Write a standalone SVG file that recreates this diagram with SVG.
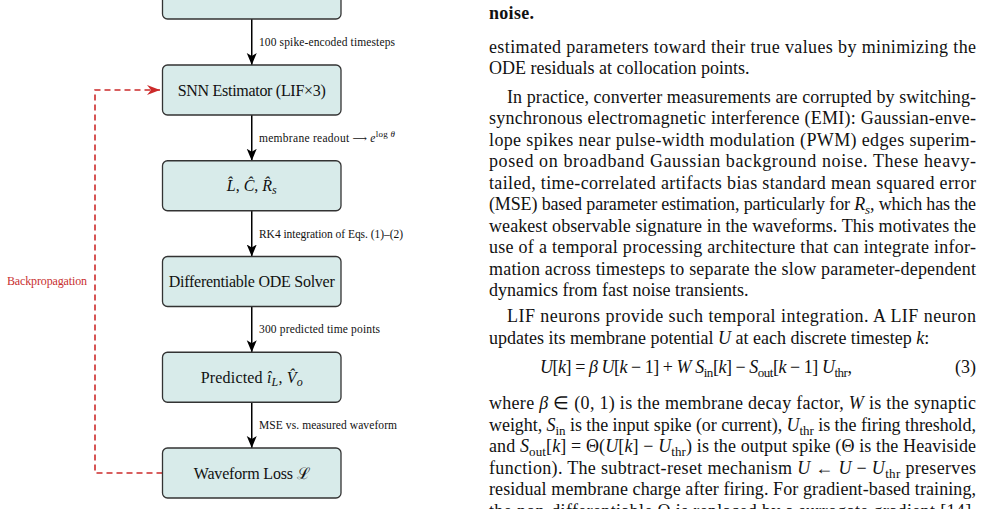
<svg xmlns="http://www.w3.org/2000/svg" width="982" height="509" viewBox="0 0 982 509">
<style>
.box{fill:#d8ebea;stroke:#333;stroke-width:1.3}
.bt{font-family:"Liberation Serif",serif;font-size:16px;fill:#111;text-anchor:middle}
.lb{font-family:"Liberation Serif",serif;font-size:11.5px;fill:#111}
.arr{stroke:#000;stroke-width:1.5;fill:none;marker-end:url(#ah)}
.bp{stroke:#cc2a2a;stroke-width:1.6;fill:none;stroke-dasharray:6,4}
.tx{font-family:"Liberation Serif",serif;font-size:18px;fill:#111}
.i{font-style:italic}
</style>
<defs>
<marker id="ah" viewBox="-12 -6 13 12" refX="0" refY="0" markerWidth="13" markerHeight="12" markerUnits="userSpaceOnUse" orient="auto"><path d="M-12,-5 L0,0 L-12,5 L-9,0 z" fill="#000"/></marker>
<marker id="ahr" viewBox="-13 -6 14 12" refX="0" refY="0" markerWidth="14" markerHeight="12" markerUnits="userSpaceOnUse" orient="auto"><path d="M-13,-5 L0,0 L-13,5 L-9,0 z" fill="#cc2a2a"/></marker>
</defs>

<g id="connectors">
<line class="arr" x1="251.75" y1="19" x2="251.75" y2="65"/>
<line class="arr" x1="251.75" y1="115" x2="251.75" y2="160.75"/>
<line class="arr" x1="251.75" y1="210.75" x2="251.75" y2="256.5"/>
<line class="arr" x1="251.75" y1="306.5" x2="251.75" y2="352.25"/>
<line class="arr" x1="251.75" y1="402.25" x2="251.75" y2="448"/>
<path class="bp" d="M162.5,473 H95 V90 H160" marker-end="url(#ahr)"/>
<text class="lb" x="259" y="46" textLength="136">100 spike-encoded timesteps</text>
<text class="lb" x="259" y="142" textLength="136">membrane readout <tspan font-family="DejaVu Serif,serif" font-size="10">⟶</tspan> <tspan class="i">e</tspan><tspan font-size="9" dy="-5">log </tspan><tspan class="i" font-size="9">θ</tspan></text>
<text class="lb" x="259" y="238" textLength="144">RK4 integration of Eqs. (1)–(2)</text>
<text class="lb" x="259" y="333" textLength="121">300 predicted time points</text>
<text class="lb" x="259" y="429" textLength="138">MSE vs. measured waveform</text>
<text x="7" y="285" font-family="Liberation Serif,serif" font-size="12" fill="#c8302f" textLength="80">Backpropagation</text>
</g>

<g id="n0"><rect class="box" x="162.5" y="-31" width="178.5" height="50" rx="5"/></g>
<g id="n1"><rect class="box" x="162.5" y="65" width="178.5" height="50" rx="5"/>
<text class="bt" x="251.75" y="95.5" textLength="148">SNN Estimator (LIF×3)</text></g>
<g id="n2"><rect class="box" x="162.5" y="160.75" width="178.5" height="50" rx="5"/>
<text class="bt" x="251.75" y="191"><tspan class="i">L̂</tspan>,  <tspan class="i">Ĉ</tspan>,  <tspan class="i">R̂</tspan><tspan class="i" font-size="12" dy="3">s</tspan></text></g>
<g id="n3"><rect class="box" x="162.5" y="256.5" width="178.5" height="50" rx="5"/>
<text class="bt" x="251.75" y="287" textLength="166">Differentiable ODE Solver</text></g>
<g id="n4"><rect class="box" x="162.5" y="352.25" width="178.5" height="50" rx="5"/>
<text class="bt" x="251.75" y="382.5" textLength="102">Predicted <tspan class="i">î</tspan><tspan class="i" font-size="12" dy="3">L</tspan><tspan dy="-3">, </tspan><tspan class="i">V̂</tspan><tspan class="i" font-size="12" dy="3">o</tspan></text></g>
<g id="n5"><rect class="box" x="162.5" y="448" width="178.5" height="50" rx="5"/>
<text class="bt" x="251.75" y="478.5" textLength="116">Waveform Loss ℒ</text></g>

<g id="body">
<text class="tx" x="489" y="19" font-weight="bold" textLength="45">noise.</text>
<text class="tx" x="489" y="53" textLength="487">estimated parameters toward their true values by minimizing the</text>
<text class="tx" x="489" y="74">ODE residuals at collocation points.</text>
<text class="tx" x="507" y="103" textLength="469">In practice, converter measurements are corrupted by switching-</text>
<text class="tx" x="489" y="124" textLength="487">synchronous electromagnetic interference (EMI): Gaussian-enve-</text>
<text class="tx" x="489" y="145.5" textLength="487">lope spikes near pulse-width modulation (PWM) edges superim-</text>
<text class="tx" x="489" y="167" textLength="487">posed on broadband Gaussian background noise. These heavy-</text>
<text class="tx" x="489" y="188.5" textLength="487">tailed, time-correlated artifacts bias standard mean squared error</text>
<text class="tx" x="489" y="210" textLength="487">(MSE) based parameter estimation, particularly for <tspan class="i">R</tspan><tspan class="i" font-size="13" dy="4">s</tspan><tspan dy="-4">, which has the</tspan></text>
<text class="tx" x="489" y="231.5" textLength="487">weakest observable signature in the waveforms. This motivates the</text>
<text class="tx" x="489" y="253" textLength="487">use of a temporal processing architecture that can integrate infor-</text>
<text class="tx" x="489" y="274.5" textLength="487">mation across timesteps to separate the slow parameter-dependent</text>
<text class="tx" x="489" y="296">dynamics from fast noise transients.</text>
<text class="tx" x="507" y="322" textLength="469">LIF neurons provide such temporal integration. A LIF neuron</text>
<text class="tx" x="489" y="343.5">updates its membrane potential <tspan class="i">U</tspan> at each discrete timestep <tspan class="i">k</tspan>:</text>
<text class="tx" x="540" y="373" textLength="312"><tspan class="i">U</tspan>[<tspan class="i">k</tspan>] = <tspan class="i">β U</tspan>[<tspan class="i">k</tspan> − 1] + <tspan class="i">W S</tspan><tspan font-size="13" dy="4">in</tspan><tspan dy="-4">[</tspan><tspan class="i">k</tspan>] − <tspan class="i">S</tspan><tspan font-size="13" dy="4">out</tspan><tspan dy="-4">[</tspan><tspan class="i">k</tspan> − 1] <tspan class="i">U</tspan><tspan font-size="13" dy="4">thr</tspan><tspan dy="-4">,</tspan></text>
<text class="tx" x="976" y="373" text-anchor="end">(3)</text>
<text class="tx" x="489" y="409" textLength="487">where <tspan class="i">β</tspan> ∈ (0, 1) is the membrane decay factor, <tspan class="i">W</tspan> is the synaptic</text>
<text class="tx" x="489" y="430.5" textLength="487">weight, <tspan class="i">S</tspan><tspan font-size="13" dy="4">in</tspan><tspan dy="-4"> is the input spike (or current), </tspan><tspan class="i">U</tspan><tspan font-size="13" dy="4">thr</tspan><tspan dy="-4"> is the firing threshold,</tspan></text>
<text class="tx" x="489" y="452" textLength="487">and <tspan class="i">S</tspan><tspan font-size="13" dy="4">out</tspan><tspan dy="-4">[</tspan><tspan class="i">k</tspan>] = Θ(<tspan class="i">U</tspan>[<tspan class="i">k</tspan>] − <tspan class="i">U</tspan><tspan font-size="13" dy="4">thr</tspan><tspan dy="-4">) is the output spike (Θ is the Heaviside</tspan></text>
<text class="tx" x="489" y="473.5" textLength="487">function). The subtract-reset mechanism <tspan class="i">U</tspan> ← <tspan class="i">U</tspan> − <tspan class="i">U</tspan><tspan font-size="13" dy="4">thr</tspan><tspan dy="-4"> preserves</tspan></text>
<text class="tx" x="489" y="495" textLength="487">residual membrane charge after firing. For gradient-based training,</text>
<text class="tx" x="489" y="517" textLength="487">the non-differentiable Θ is replaced by a surrogate gradient [14].</text>
</g>
</svg>
